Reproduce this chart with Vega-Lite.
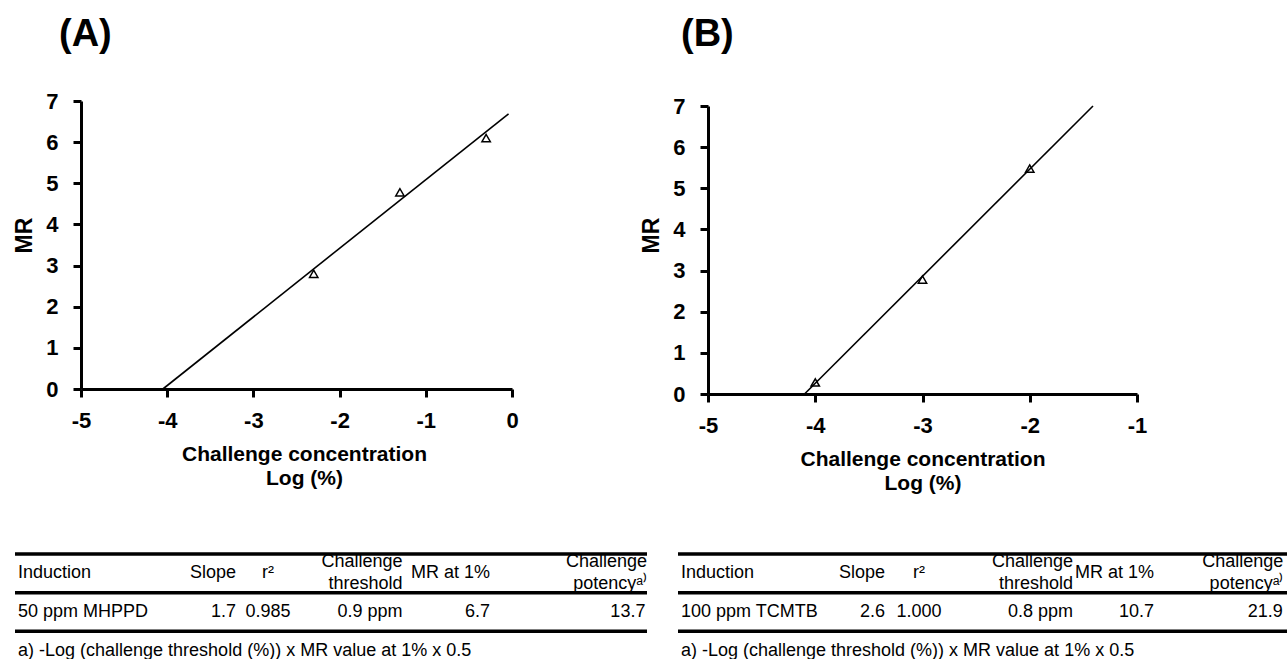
{
  "$schema": "https://vega.github.io/schema/vega-lite/v6.json",
  "background": "white",
  "padding": {"left": 13, "top": 15, "right": 0, "bottom": 0},
  "autosize": {"type": "pad"},
  "config": {
    "view": {"stroke": null},
    "font": "Liberation Sans",
    "axis": {
      "grid": false,
      "domainColor": "black",
      "domainWidth": 3,
      "tickColor": "black",
      "tickWidth": 3,
      "tickSize": 8,
      "labelColor": "black",
      "labelFont": "Liberation Sans",
      "labelFontWeight": "bold",
      "labelFontSize": 22,
      "labelFlush": false,
      "labelOverlap": false,
      "labelExpr": "'' + datum.value",
      "titleColor": "black",
      "titleFont": "Liberation Sans",
      "titleFontWeight": "bold"
    },
    "text": {"font": "Liberation Sans", "fontSize": 18, "color": "black", "baseline": "middle", "lineHeight": 22}
  },
  "datasets": {
    "pointsA": [
      {"log_conc": -2.3, "MR": 2.8},
      {"log_conc": -1.3, "MR": 4.78},
      {"log_conc": -0.3, "MR": 6.1}
    ],
    "lineA": [
      {"log_conc": -4.05, "MR": 0},
      {"log_conc": -0.04, "MR": 6.69}
    ],
    "pointsB": [
      {"log_conc": -4, "MR": 0.28},
      {"log_conc": -3, "MR": 2.78},
      {"log_conc": -2, "MR": 5.48}
    ],
    "lineB": [
      {"log_conc": -4.1, "MR": 0},
      {"log_conc": -1.41, "MR": 7.0}
    ],
    "rules": [
      {"row": "header"},
      {"row": "data"},
      {"row": "foot"}
    ],
    "tableA": [
      {"row": "header", "col": "Induction", "text": "Induction"},
      {"row": "header", "col": "Slope", "text": "Slope"},
      {"row": "header", "col": "r2", "text": "r²"},
      {"row": "header", "col": "threshold", "text": ["Challenge", "threshold"]},
      {"row": "header", "col": "MR1", "text": "MR at 1%"},
      {"row": "header", "col": "potency", "text": ["Challenge", "potencyᵃ⁾"]},
      {"row": "data", "col": "Induction", "text": "50 ppm MHPPD"},
      {"row": "data", "col": "Slope", "text": "1.7"},
      {"row": "data", "col": "r2", "text": "0.985"},
      {"row": "data", "col": "threshold", "text": "0.9 ppm"},
      {"row": "data", "col": "MR1", "text": "6.7"},
      {"row": "data", "col": "potency", "text": "13.7"},
      {"row": "foot", "col": "Induction", "text": "a) -Log (challenge threshold (%)) x MR value at 1% x 0.5"}
    ],
    "tableB": [
      {"row": "header", "col": "Induction", "text": "Induction"},
      {"row": "header", "col": "Slope", "text": "Slope"},
      {"row": "header", "col": "r2", "text": "r²"},
      {"row": "header", "col": "threshold", "text": ["Challenge", "threshold"]},
      {"row": "header", "col": "MR1", "text": "MR at 1%"},
      {"row": "header", "col": "potency", "text": ["Challenge", "potencyᵃ⁾"]},
      {"row": "data", "col": "Induction", "text": "100 ppm TCMTB"},
      {"row": "data", "col": "Slope", "text": "2.6"},
      {"row": "data", "col": "r2", "text": "1.000"},
      {"row": "data", "col": "threshold", "text": "0.8 ppm"},
      {"row": "data", "col": "MR1", "text": "10.7"},
      {"row": "data", "col": "potency", "text": "21.9"},
      {"row": "foot", "col": "Induction", "text": "a) -Log (challenge threshold (%)) x MR value at 1% x 0.5"}
    ]
  },
  "columns": 1,
  "align": "none",
  "spacing": 59,
  "concat": [
    {
      "columns": 2,
      "align": "none",
      "spacing": 121,
      "concat": [
        {
          "width": 431,
          "height": 288,
          "title": {"text": "(A)", "anchor": "start", "frame": "group", "dx": -22, "offset": 36.2, "fontSize": 38, "fontWeight": "bold", "font": "Liberation Sans", "color": "black"},
          "layer": [
            {
              "data": {"name": "lineA"},
              "mark": {"type": "line", "color": "black", "strokeWidth": 1.6},
              "encoding": {
                "x": {"field": "log_conc", "type": "quantitative", "scale": {"domain": [-5, 0], "nice": false, "zero": false},
                  "axis": {"title": ["Challenge concentration", "Log (%)"], "values": [-5, -4, -3, -2, -1, 0], "labelPadding": 13, "titlePadding": 12, "titleFontSize": 21, "titleLineHeight": 24, "titleX": 223}},
                "y": {"field": "MR", "type": "quantitative", "scale": {"domain": [0, 7], "nice": false, "zero": false},
                  "axis": {"title": "MR", "values": [0, 1, 2, 3, 4, 5, 6, 7], "labelPadding": 15, "titlePadding": 9, "titleFontSize": 23, "titleY": 134}}
              }
            },
            {
              "data": {"name": "pointsA"},
              "mark": {"type": "point", "shape": "triangle-up", "filled": false, "color": "black", "size": 70, "strokeWidth": 1.5, "opacity": 1},
              "encoding": {
                "x": {"field": "log_conc", "type": "quantitative"},
                "y": {"field": "MR", "type": "quantitative"}
              }
            }
          ]
        },
        {
          "width": 429,
          "height": 293,
          "title": {"text": "(B)", "anchor": "start", "frame": "group", "dx": -27, "offset": 41.2, "fontSize": 38, "fontWeight": "bold", "font": "Liberation Sans", "color": "black"},
          "layer": [
            {
              "data": {"name": "lineB"},
              "mark": {"type": "line", "color": "black", "strokeWidth": 1.6},
              "encoding": {
                "x": {"field": "log_conc", "type": "quantitative", "scale": {"domain": [-5, -1], "nice": false, "zero": false},
                  "axis": {"title": ["Challenge concentration", "Log (%)"], "values": [-5, -4, -3, -2, -1], "labelPadding": 13, "titlePadding": 12, "titleFontSize": 21, "titleLineHeight": 24}},
                "y": {"field": "MR", "type": "quantitative", "scale": {"domain": [0, 7], "nice": false, "zero": false, "range": [293, 5]},
                  "axis": {"title": "MR", "values": [0, 1, 2, 3, 4, 5, 6, 7], "labelPadding": 15, "titlePadding": 9, "titleFontSize": 23, "titleY": 134}}
              }
            },
            {
              "data": {"name": "pointsB"},
              "mark": {"type": "point", "shape": "triangle-up", "filled": false, "color": "black", "size": 70, "strokeWidth": 1.5, "opacity": 1},
              "encoding": {
                "x": {"field": "log_conc", "type": "quantitative"},
                "y": {"field": "MR", "type": "quantitative"}
              }
            }
          ]
        }
      ]
    },
    {
      "columns": 2,
      "align": "none",
      "spacing": 27,
      "concat": [
        {
          "width": 566,
          "height": 116,
          "data": {"name": "tableA"},
          "resolve": {"scale": {"x": "independent"}},
          "layer": [
            {
              "data": {"name": "rules"},
              "mark": {"type": "rule", "color": "black", "strokeWidth": 3.5},
              "encoding": {
                "x": {"datum": 0, "type": "quantitative", "scale": {"domain": [0, 1], "range": [-66, 566]}, "axis": null},
                "x2": {"datum": 1},
                "y": {"field": "row", "type": "nominal", "bandPosition": 0, "scale": {"type": "band", "domain": ["header", "data", "foot"], "paddingInner": 0, "paddingOuter": 0}, "axis": null}
              }
            },
            {
              "layer": [
                {
                  "transform": [{"filter": "datum.col === 'Induction'"}],
                  "mark": {"type": "text", "align": "left"},
                  "encoding": {
                    "x": {"field": "col", "type": "nominal", "bandPosition": 0.0285, "scale": {"type": "band", "domain": ["Induction", "Slope", "r2", "threshold", "MR1", "potency"], "range": [-66, 566], "paddingInner": 0, "paddingOuter": 0}, "axis": null},
                    "y": {"field": "row", "type": "nominal", "bandPosition": 0.5, "axis": null},
                    "text": {"field": "text"}
                  }
                },
                {
                  "transform": [{"filter": "datum.col === 'Slope'"}],
                  "mark": {"type": "text", "align": "right"},
                  "encoding": {
                    "x": {"field": "col", "type": "nominal", "bandPosition": 1.098, "axis": null},
                    "y": {"field": "row", "type": "nominal", "bandPosition": 0.5, "axis": null},
                    "text": {"field": "text"}
                  }
                },
                {
                  "transform": [{"filter": "datum.col === 'r2'"}],
                  "mark": {"type": "text", "align": "center"},
                  "encoding": {
                    "x": {"field": "col", "type": "nominal", "bandPosition": 0.402, "axis": null},
                    "y": {"field": "row", "type": "nominal", "bandPosition": 0.5, "axis": null},
                    "text": {"field": "text"}
                  }
                },
                {
                  "transform": [{"filter": "datum.col === 'threshold' && datum.row === 'header'"}],
                  "mark": {"type": "text", "align": "right"},
                  "encoding": {
                    "x": {"field": "col", "type": "nominal", "bandPosition": 0.68, "axis": null},
                    "y": {"field": "row", "type": "nominal", "bandPosition": 0.21, "axis": null},
                    "text": {"field": "text"}
                  }
                },
                {
                  "transform": [{"filter": "datum.col === 'threshold' && datum.row === 'data'"}],
                  "mark": {"type": "text", "align": "right"},
                  "encoding": {
                    "x": {"field": "col", "type": "nominal", "bandPosition": 0.68, "axis": null},
                    "y": {"field": "row", "type": "nominal", "bandPosition": 0.5, "axis": null},
                    "text": {"field": "text"}
                  }
                },
                {
                  "transform": [{"filter": "datum.col === 'MR1'"}],
                  "mark": {"type": "text", "align": "right"},
                  "encoding": {
                    "x": {"field": "col", "type": "nominal", "bandPosition": 0.51, "axis": null},
                    "y": {"field": "row", "type": "nominal", "bandPosition": 0.5, "axis": null},
                    "text": {"field": "text"}
                  }
                },
                {
                  "transform": [{"filter": "datum.col === 'potency' && datum.row === 'header'"}],
                  "mark": {"type": "text", "align": "right"},
                  "encoding": {
                    "x": {"field": "col", "type": "nominal", "bandPosition": 1.0, "axis": null},
                    "y": {"field": "row", "type": "nominal", "bandPosition": 0.21, "axis": null},
                    "text": {"field": "text"}
                  }
                },
                {
                  "transform": [{"filter": "datum.col === 'potency' && datum.row === 'data'"}],
                  "mark": {"type": "text", "align": "right"},
                  "encoding": {
                    "x": {"field": "col", "type": "nominal", "bandPosition": 0.985, "axis": null},
                    "y": {"field": "row", "type": "nominal", "bandPosition": 0.5, "axis": null},
                    "text": {"field": "text"}
                  }
                }
              ]
            }
          ]
        },
        {
          "width": 612,
          "height": 116,
          "data": {"name": "tableB"},
          "layer": [
            {
              "data": {"name": "rules"},
              "mark": {"type": "rule", "color": "black", "strokeWidth": 3.5},
              "encoding": {
                "y": {"field": "row", "type": "nominal", "bandPosition": 0, "scale": {"type": "band", "domain": ["header", "data", "foot"], "paddingInner": 0, "paddingOuter": 0}, "axis": null}
              }
            },
            {
              "transform": [{"filter": "datum.col === 'Induction'"}],
              "mark": {"type": "text", "align": "left"},
              "encoding": {
                "x": {"field": "col", "type": "nominal", "bandPosition": 0.029, "scale": {"type": "band", "domain": ["Induction", "Slope", "r2", "threshold", "MR1", "potency"], "paddingInner": 0, "paddingOuter": 0}, "axis": null},
                "y": {"field": "row", "type": "nominal", "bandPosition": 0.5, "axis": null},
                "text": {"field": "text"}
              }
            },
            {
              "transform": [{"filter": "datum.col === 'Slope'"}],
              "mark": {"type": "text", "align": "right"},
              "encoding": {
                "x": {"field": "col", "type": "nominal", "bandPosition": 1.029, "axis": null},
                "y": {"field": "row", "type": "nominal", "bandPosition": 0.5, "axis": null},
                "text": {"field": "text"}
              }
            },
            {
              "transform": [{"filter": "datum.col === 'r2'"}],
              "mark": {"type": "text", "align": "center"},
              "encoding": {
                "x": {"field": "col", "type": "nominal", "bandPosition": 0.363, "axis": null},
                "y": {"field": "row", "type": "nominal", "bandPosition": 0.5, "axis": null},
                "text": {"field": "text"}
              }
            },
            {
              "transform": [{"filter": "datum.col === 'threshold' && datum.row === 'header'"}],
              "mark": {"type": "text", "align": "right"},
              "encoding": {
                "x": {"field": "col", "type": "nominal", "bandPosition": 0.873, "axis": null},
                "y": {"field": "row", "type": "nominal", "bandPosition": 0.21, "axis": null},
                "text": {"field": "text"}
              }
            },
            {
              "transform": [{"filter": "datum.col === 'threshold' && datum.row === 'data'"}],
              "mark": {"type": "text", "align": "right"},
              "encoding": {
                "x": {"field": "col", "type": "nominal", "bandPosition": 0.873, "axis": null},
                "y": {"field": "row", "type": "nominal", "bandPosition": 0.5, "axis": null},
                "text": {"field": "text"}
              }
            },
            {
              "transform": [{"filter": "datum.col === 'MR1'"}],
              "mark": {"type": "text", "align": "right"},
              "encoding": {
                "x": {"field": "col", "type": "nominal", "bandPosition": 0.667, "axis": null},
                "y": {"field": "row", "type": "nominal", "bandPosition": 0.5, "axis": null},
                "text": {"field": "text"}
              }
            },
            {
              "transform": [{"filter": "datum.col === 'potency' && datum.row === 'header'"}],
              "mark": {"type": "text", "align": "right"},
              "encoding": {
                "x": {"field": "col", "type": "nominal", "bandPosition": 0.935, "axis": null},
                "y": {"field": "row", "type": "nominal", "bandPosition": 0.21, "axis": null},
                "text": {"field": "text"}
              }
            },
            {
              "transform": [{"filter": "datum.col === 'potency' && datum.row === 'data'"}],
              "mark": {"type": "text", "align": "right"},
              "encoding": {
                "x": {"field": "col", "type": "nominal", "bandPosition": 0.93, "axis": null},
                "y": {"field": "row", "type": "nominal", "bandPosition": 0.5, "axis": null},
                "text": {"field": "text"}
              }
            }
          ]
        }
      ]
    }
  ]
}
